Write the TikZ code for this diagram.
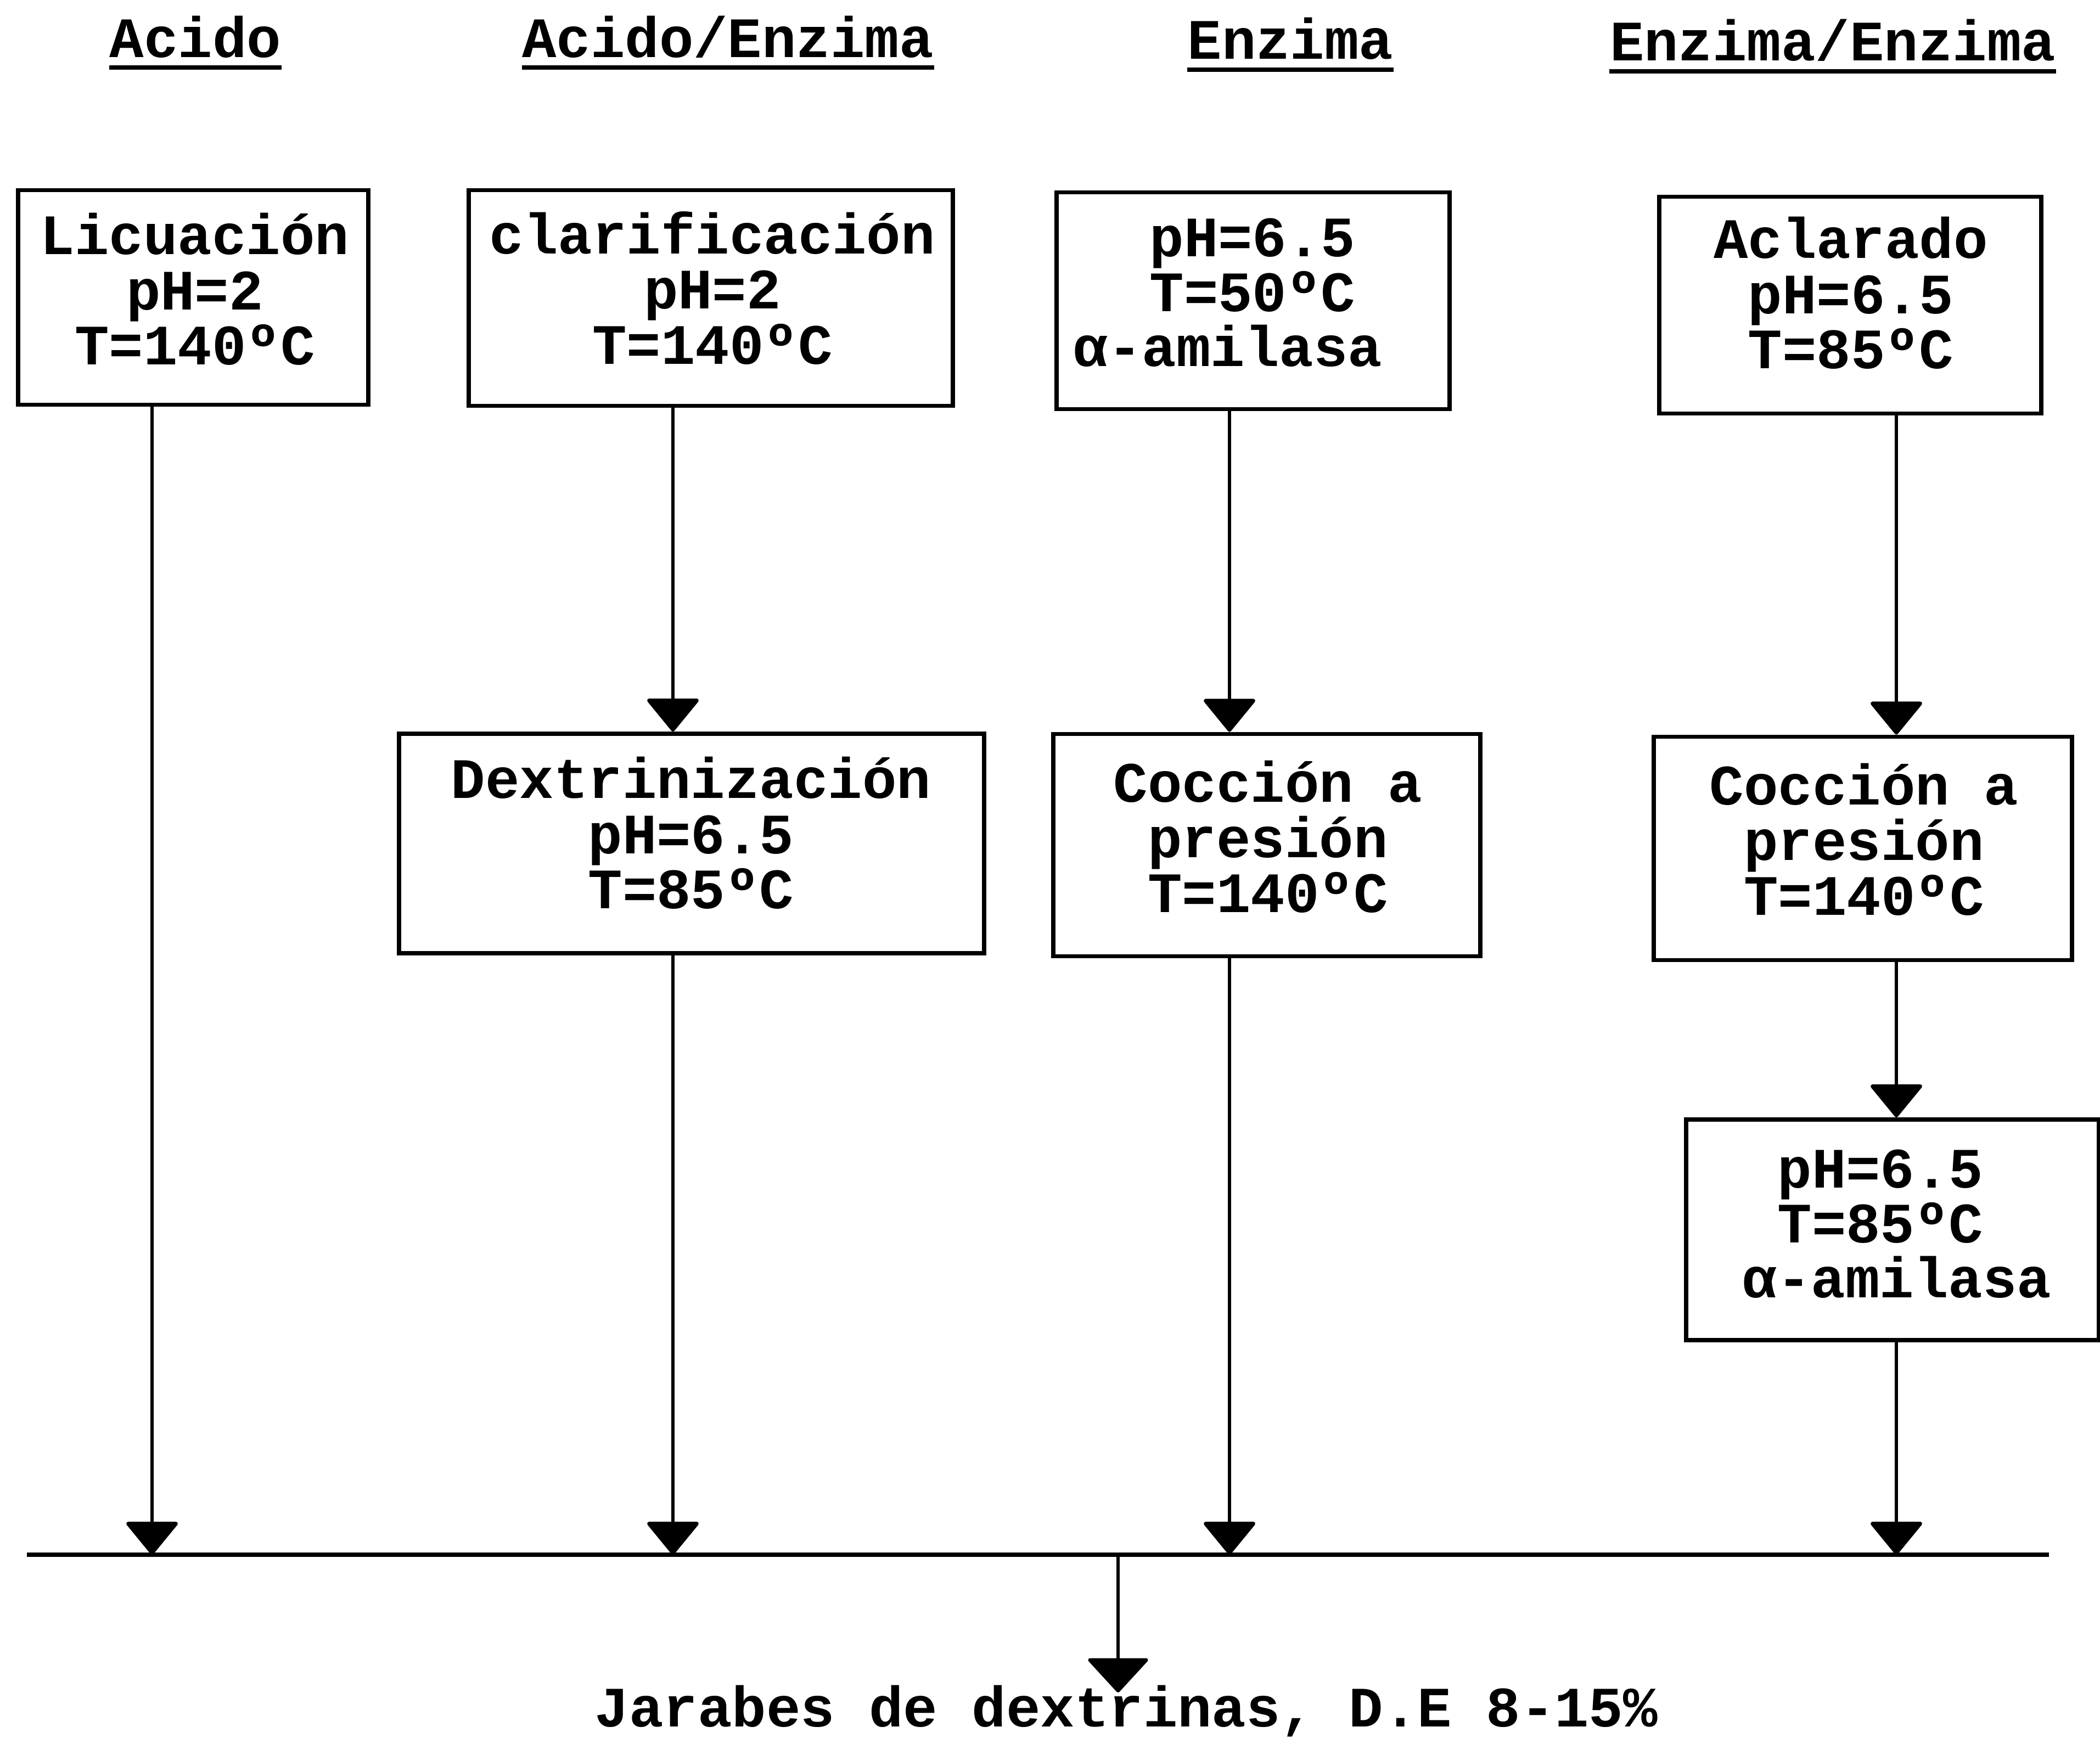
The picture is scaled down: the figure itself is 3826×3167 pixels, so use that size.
\documentclass[tikz,border=0pt]{standalone}
\usepackage{fontspec}
\setmainfont{Liberation Mono}
\usetikzlibrary{arrows.meta}
\begin{document}
\begin{tikzpicture}[x=0.01cm,y=-0.01cm,
  txt/.style={font=\bfseries\fontsize{29.6pt}{28.5pt}\selectfont, align=center, inner sep=0pt},
  box/.style={draw, line width=2.2pt, inner sep=0pt},
  conn/.style={line width=1.9pt, -{Triangle[width=1cm,length=0.62cm,round]}},
  bigconn/.style={line width=1.9pt, -{Triangle[width=1.16cm,length=0.64cm,round]}},
  uline/.style={line width=2.2pt},
  bus/.style={line width=2.3pt}
]
\useasboundingbox (0,0) rectangle (3826,3167);
\fill[white] (0,0) rectangle (3826,3167);

% headers
\node[txt, anchor=base] (h1) at (356,105) {Acido};
\node[txt, anchor=base] (h2) at (1326,105) {Acido/Enzima};
\node[txt, anchor=base] (h3) at (2351,108) {Enzima};
\node[txt, anchor=base] (h4) at (3339,111) {Enzima/Enzima};
\coordinate (ul1) at (0,123);
\coordinate (ul2) at (0,127);
\coordinate (ul3) at (0,130);
\draw[uline] (h1.west |- ul1) -- (h1.east |- ul1);
\draw[uline] (h2.west |- ul1) -- (h2.east |- ul1);
\draw[uline] (h3.west |- ul2) -- (h3.east |- ul2);
\draw[uline] (h4.west |- ul3) -- (h4.east |- ul3);

% boxes
\node[box, minimum width=6.37cm, minimum height=3.91cm] (b1) at (352,542) {};
\node[box, minimum width=8.81cm, minimum height=3.93cm] (b2) at (1295,543) {};
\node[box, minimum width=7.15cm, minimum height=3.95cm] (b3) at (2283,548) {};
\node[box, minimum width=6.96cm, minimum height=3.95cm] (b4) at (3371,556) {};
\node[box, minimum width=10.66cm, minimum height=4.00cm] (b5) at (1260,1537) {};
\node[box, minimum width=7.78cm, minimum height=4.05cm] (b6) at (2308,1540) {};
\node[box, minimum width=7.62cm, minimum height=4.07cm] (b7) at (3394,1546) {};
\node[box, minimum width=7.52cm, minimum height=4.02cm] (b8) at (3448,2241) {};

% box texts
\node[txt] (t1) at (355,527) {Licuación\\pH=2\\T=140ºC};
\node[txt] (t2) at (1298,525) {clarificación\\pH=2\\T=140ºC};
\node[txt] (t3) at (2282,533) {pH=6.5\\T=50ºC\\α-amilasa\kern0.9cm\null};
\node[txt] (t4) at (3372,534) {Aclarado\\pH=6.5\\T=85ºC};
\node[txt] (t5) at (1259,1518) {Dextrinización\\pH=6.5\\T=85ºC};
\node[txt] (t6) at (2310,1525) {Cocción a\\presión\\T=140ºC};
\node[txt] (t7) at (3396,1530) {Cocción a\\presión\\T=140ºC};
\node[txt] (t8) at (3456,2230) {pH=6.5\kern0.6cm\null\\T=85ºC\kern0.6cm\null\\α-amilasa};

% column positions
\coordinate (c1) at (277,0);
\coordinate (c2) at (1226,0);
\coordinate (c3) at (2240,0);
\coordinate (c4) at (3455,0);
\coordinate (c5) at (2037,0);

% collecting line
\coordinate (busL) at (49,2833);
\coordinate (busR) at (3733,2833);
\draw[bus] (busL) -- (busR);

% connectors
\draw[conn] (b1.south -| c1) -- (busL -| c1);
\draw[conn] (b2.south -| c2) -- (b5.north -| c2);
\draw[conn] (b5.south -| c2) -- (busL -| c2);
\draw[conn] (b3.south -| c3) -- (b6.north -| c3);
\draw[conn] (b6.south -| c3) -- (busL -| c3);
\draw[conn] (b4.south -| c4) -- (b7.north -| c4);
\draw[conn] (b7.south -| c4) -- (b8.north -| c4);
\draw[conn] (b8.south -| c4) -- (busL -| c4);

% output
\node[txt] (out) at (2052,3118) {Jarabes de dextrinas, D.E 8-15\%};
\coordinate (tip) at (2037,3084);
\draw[bigconn] (busL -| c5) -- (tip);
\end{tikzpicture}
\end{document}
